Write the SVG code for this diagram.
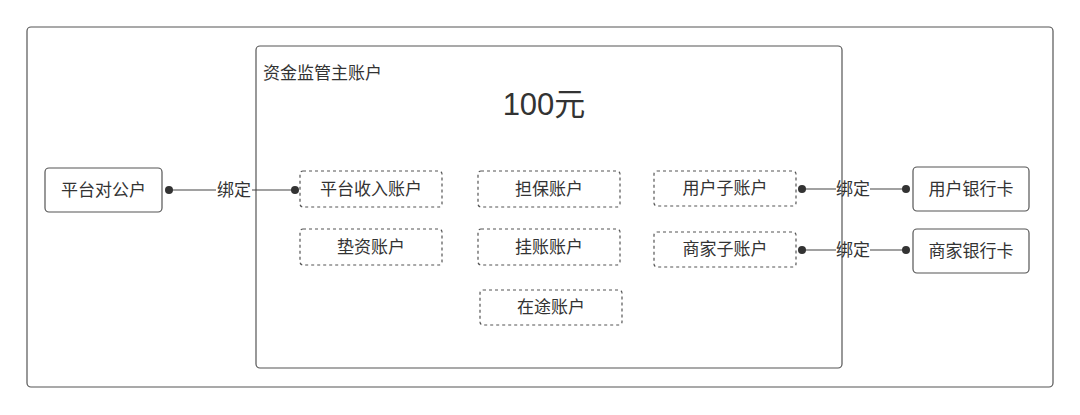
<svg xmlns="http://www.w3.org/2000/svg" width="1080" height="415" viewBox="0 0 1080 415">
<style>
text{font-family:"Liberation Sans","Noto Sans CJK SC",sans-serif;fill:#333;}
.lbl{font-size:17px;text-anchor:middle;dominant-baseline:central;}
.solid{fill:#fff;stroke:#555;stroke-width:1.2;}
.dash{fill:#fff;stroke:#555;stroke-width:1.2;stroke-dasharray:3 3;}
.ln{stroke:#444;stroke-width:1.2;fill:none;}
.dot{fill:#333;}
.bind{font-size:17px;text-anchor:middle;dominant-baseline:central;}
</style>
<rect width="1080" height="415" fill="#fff"/>
<g id="outer"><rect x="27" y="27" width="1026" height="360" rx="4" class="solid"/></g>
<g id="main">
<rect x="256" y="46" width="586" height="322" rx="4" class="solid"/>
<text x="263" y="73" font-size="17" dominant-baseline="central">资金监管主账户</text>
<text x="544" y="104" font-size="31" text-anchor="middle" dominant-baseline="central">100元</text>
</g>
<g id="n-pingtaiduigong"><rect x="45" y="168" width="117" height="44" rx="4" class="solid"/><text x="103.5" y="190" class="lbl">平台对公户</text></g>
<g id="n-shouru"><rect x="300" y="171" width="142" height="36" rx="3" class="dash"/><text x="371" y="189" class="lbl">平台收入账户</text></g>
<g id="n-dianzi"><rect x="300" y="229" width="142" height="36" rx="3" class="dash"/><text x="371" y="247" class="lbl">垫资账户</text></g>
<g id="n-danbao"><rect x="478" y="171" width="142" height="36" rx="3" class="dash"/><text x="549" y="189" class="lbl">担保账户</text></g>
<g id="n-guazhang"><rect x="478" y="229" width="142" height="36" rx="3" class="dash"/><text x="549" y="247" class="lbl">挂账账户</text></g>
<g id="n-zaitu"><rect x="480" y="290" width="142" height="35" rx="3" class="dash"/><text x="551" y="307.5" class="lbl">在途账户</text></g>
<g id="n-yonghuzi"><rect x="654" y="171" width="142" height="35" rx="3" class="dash"/><text x="725" y="188.5" class="lbl">用户子账户</text></g>
<g id="n-shangjiazi"><rect x="654" y="232" width="142" height="35" rx="3" class="dash"/><text x="725" y="249.5" class="lbl">商家子账户</text></g>
<g id="n-yonghuka"><rect x="913" y="167" width="116" height="44" rx="4" class="solid"/><text x="971" y="189" class="lbl">用户银行卡</text></g>
<g id="n-shangjiaka"><rect x="913" y="229" width="116" height="44" rx="4" class="solid"/><text x="971" y="251" class="lbl">商家银行卡</text></g>
<g id="connectors">
<line x1="168" y1="190" x2="216" y2="190" class="ln"/><line x1="252" y1="190" x2="296" y2="190" class="ln"/>
<circle cx="169" cy="190" r="4" class="dot"/><circle cx="295" cy="190" r="4" class="dot"/>
<text x="234" y="190" class="bind">绑定</text>
<line x1="801" y1="189" x2="836" y2="189" class="ln"/><line x1="870" y1="189" x2="906" y2="189" class="ln"/>
<circle cx="802" cy="189" r="4" class="dot"/><circle cx="906" cy="189" r="4" class="dot"/>
<text x="853" y="189" class="bind">绑定</text>
<line x1="801" y1="250" x2="836" y2="250" class="ln"/><line x1="870" y1="250" x2="906" y2="250" class="ln"/>
<circle cx="802" cy="250" r="4" class="dot"/><circle cx="906" cy="250" r="4" class="dot"/>
<text x="853" y="250" class="bind">绑定</text>
</g>
</svg>
